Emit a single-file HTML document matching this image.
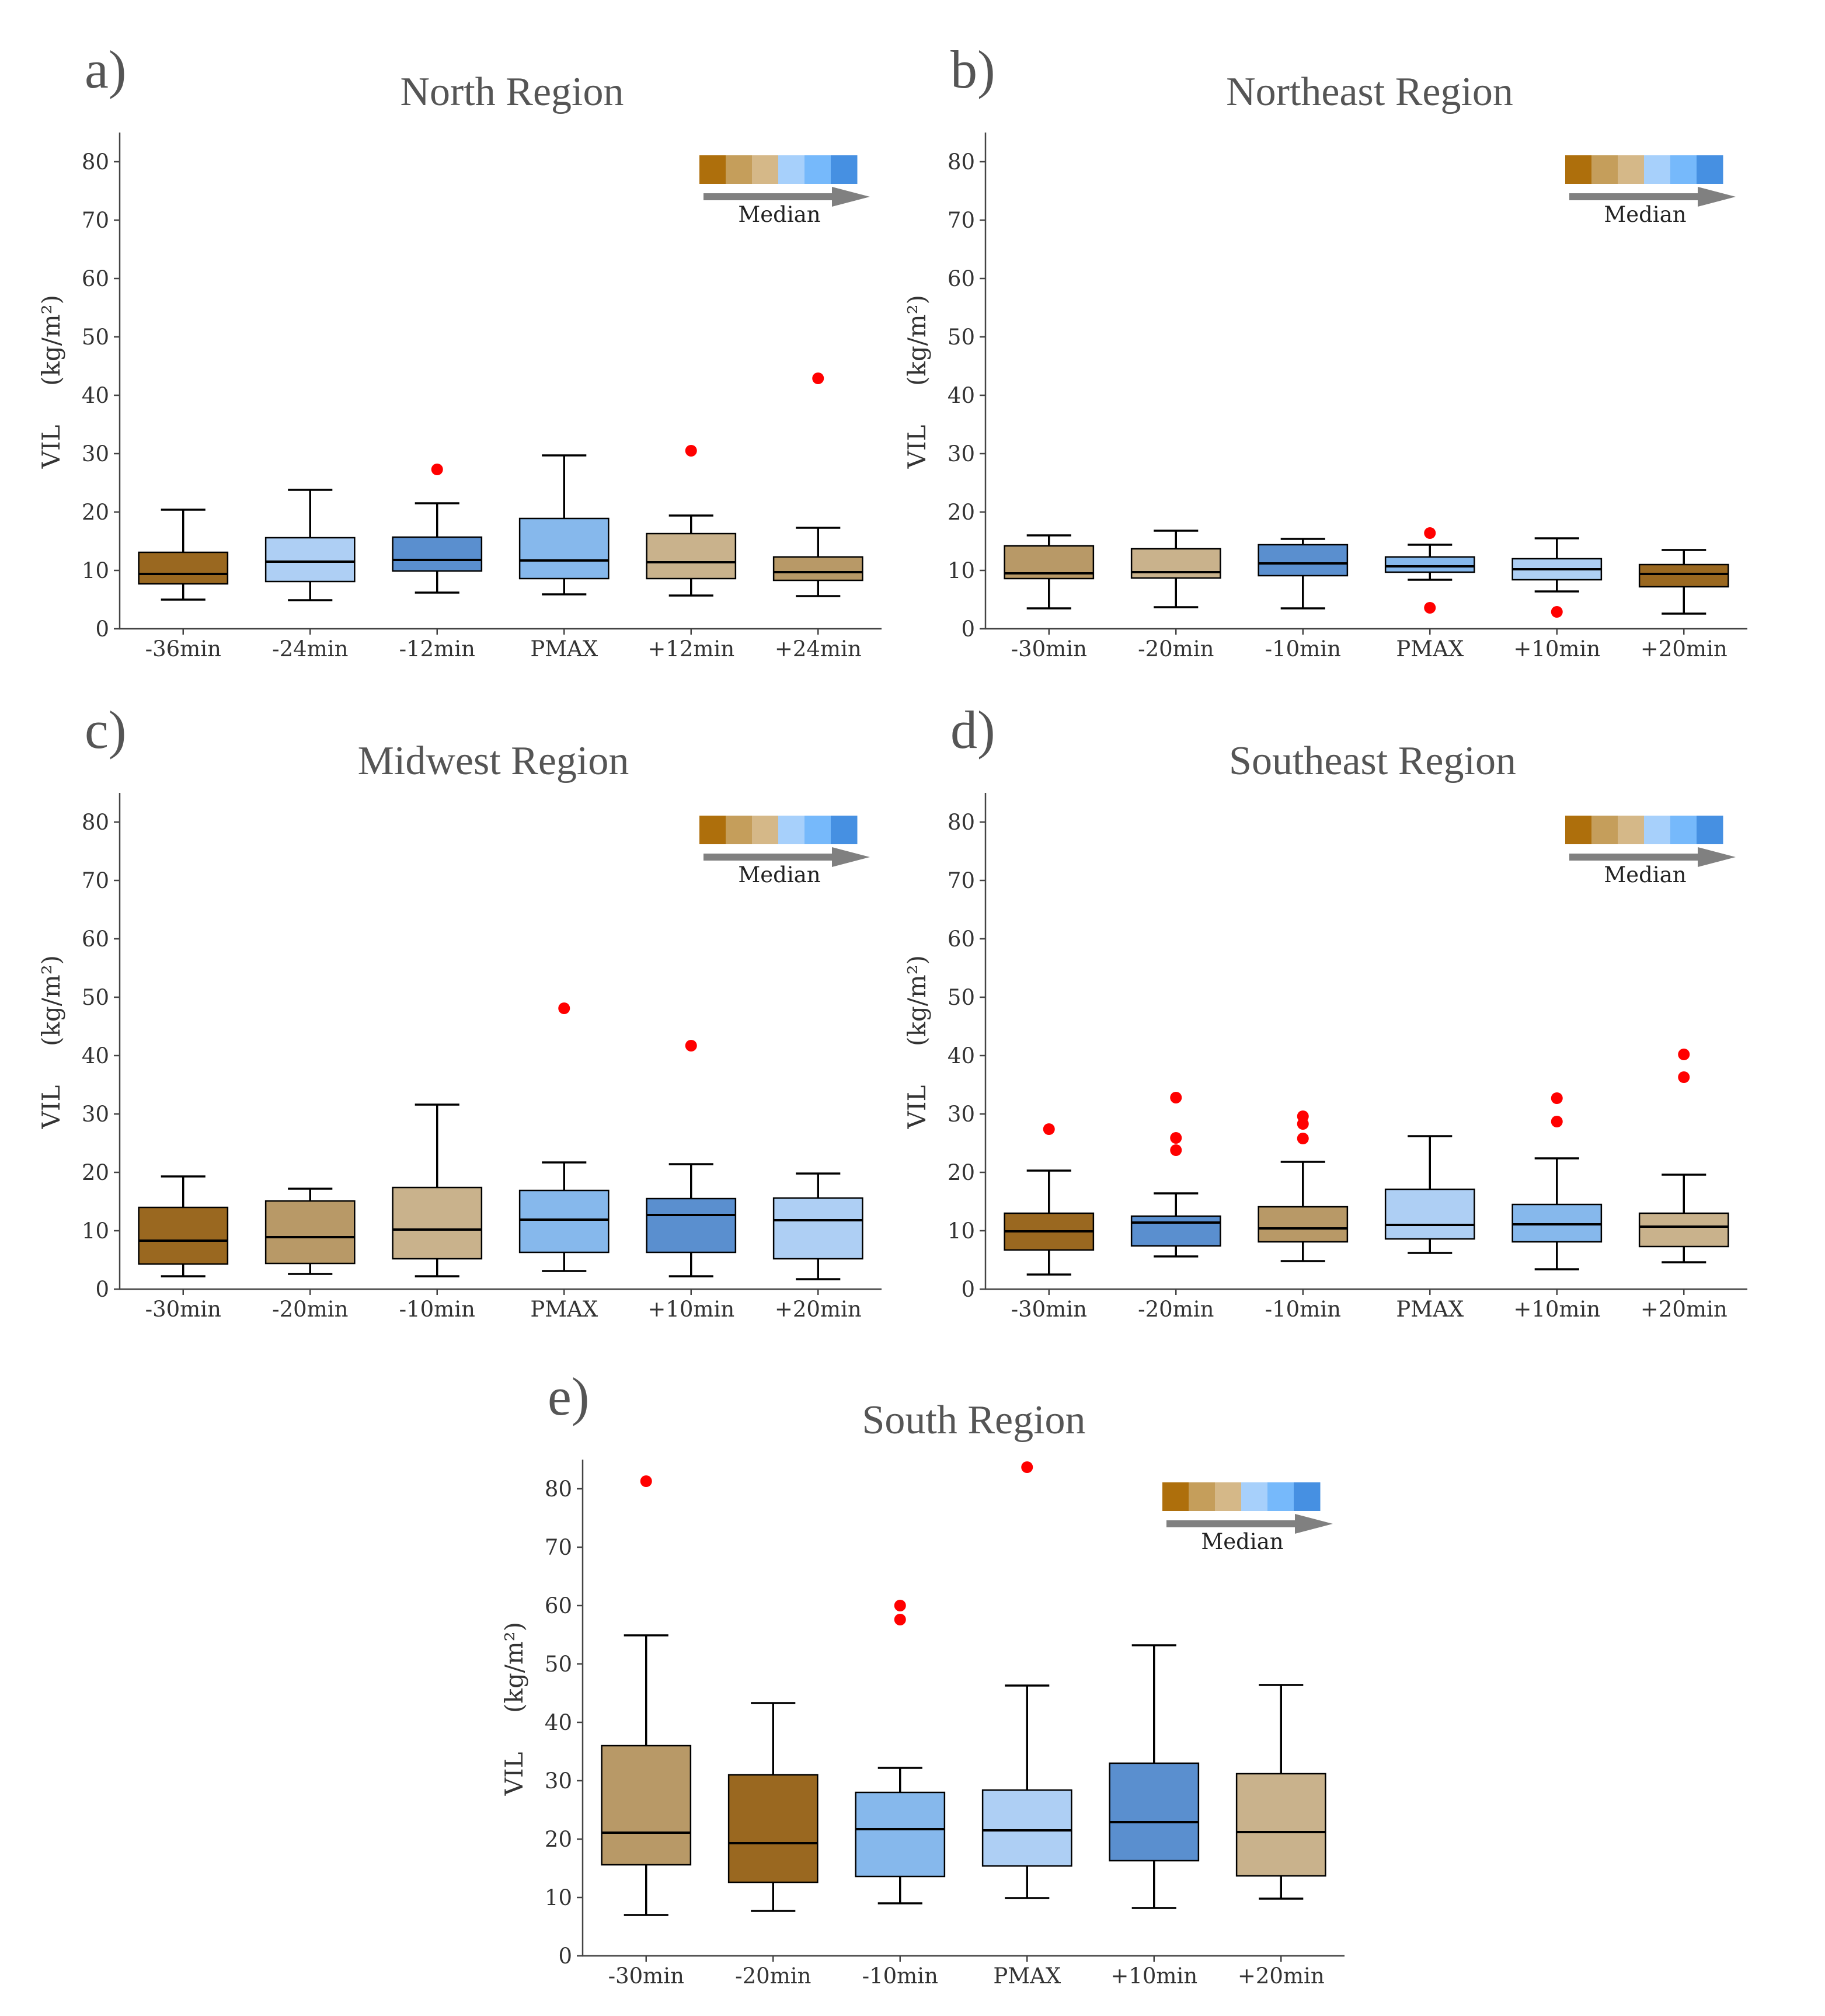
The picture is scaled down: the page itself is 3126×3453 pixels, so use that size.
<!DOCTYPE html>
<html><head><meta charset="utf-8">
<style>
html,body{margin:0;padding:0;background:#fff;}
svg{display:block;}
</style></head>
<body>
<svg id="chart" width="3126" height="3453" viewBox="0 0 3126 3453" xmlns="http://www.w3.org/2000/svg"></svg>
<script>
// ---- Data ----
const categoriesA = ["-36min","-24min","-12min","PMAX","+12min","+24min"];
const categoriesB = ["-30min","-20min","-10min","PMAX","+10min","+20min"];
const yTicks = [0,10,20,30,40,50,60,70,80];
const panelTitles = ["North Region","Northeast Region","Midwest Region","Southeast Region","South Region"];
const panelLetters = ["a)","b)","c)","d)","e)"];
// [low whisker, q1, median, q3, high whisker]
const northStats = [[5.0,7.7,9.4,13.1,20.4],[4.9,8.1,11.5,15.6,23.8],[6.2,9.9,11.8,15.7,21.5],[5.9,8.6,11.7,18.9,29.7],[5.7,8.6,11.4,16.3,19.4],[5.6,8.3,9.7,12.3,17.3]];
const northOutliers = [[],[],[27.3],[],[30.5],[42.9]];
const northColors = ["c0","c3","c5","c4","c2","c1"];
const northeastStats = [[3.5,8.6,9.5,14.2,16.0],[3.7,8.7,9.7,13.7,16.8],[3.5,9.1,11.2,14.4,15.4],[8.4,9.7,10.7,12.3,14.4],[6.4,8.4,10.2,12.0,15.5],[2.6,7.2,9.4,11.0,13.5]];
const northeastOutliers = [[],[],[],[16.4,3.6],[2.9],[]];
const northeastColors = ["c1","c2","c5","c4","c3","c0"];
const midwestStats = [[2.2,4.3,8.3,14.0,19.3],[2.6,4.4,8.9,15.1,17.2],[2.2,5.2,10.2,17.4,31.6],[3.1,6.3,11.9,16.9,21.7],[2.2,6.3,12.7,15.5,21.4],[1.7,5.2,11.8,15.6,19.8]];
const midwestOutliers = [[],[],[],[48.1],[41.7],[]];
const midwestColors = ["c0","c1","c2","c4","c5","c3"];
const southeastStats = [[2.5,6.7,9.9,13.0,20.3],[5.6,7.4,11.4,12.5,16.4],[4.8,8.1,10.4,14.1,21.8],[6.2,8.6,11.0,17.1,26.2],[3.4,8.1,11.1,14.5,22.4],[4.6,7.3,10.7,13.0,19.6]];
const southeastOutliers = [[27.4],[32.8,25.9,23.8],[29.6,28.3,25.8],[],[32.7,28.7],[40.2,36.3]];
const southeastColors = ["c0","c5","c1","c3","c4","c2"];
const southStats = [[7.0,15.6,21.1,36.0,54.9],[7.7,12.6,19.3,31.0,43.3],[9.0,13.6,21.7,28.0,32.2],[9.9,15.4,21.5,28.4,46.3],[8.2,16.3,22.9,33.0,53.2],[9.8,13.7,21.2,31.2,46.4]];
const southOutliers = [[81.3],[],[60.0,57.6],[83.7],[],[]];
const southColors = ["c1","c0","c4","c3","c5","c2"];

const palette = {c0:"#9A6820",c1:"#B89967",c2:"#C9B28C",c3:"#AECFF4",c4:"#86B8EC",c5:"#5A8FCF"};
const legendColors = ["#AE6F0C","#C59E5B","#D5B888","#A7D0FB","#76B9FB","#4690E2"];

const NS = "http://www.w3.org/2000/svg";
const svg = document.getElementById("chart");
function el(tag, attrs, parent){
  const e = document.createElementNS(NS, tag);
  for (const k in attrs) e.setAttribute(k, attrs[k]);
  (parent||svg).appendChild(e);
  return e;
}
const W = 1305, H = 850, PXPER = 10;
const panels = [
  {x0:205,y0:1077,cats:categoriesA,stats:northStats,outs:northOutliers,cols:northColors,name:"north",tx:672,ty:897},
  {x0:1688,y0:1077,cats:categoriesB,stats:northeastStats,outs:northeastOutliers,cols:northeastColors,name:"northeast",tx:658,ty:897},
  {x0:205,y0:2208,cats:categoriesB,stats:midwestStats,outs:midwestOutliers,cols:midwestColors,name:"midwest",tx:640,ty:882},
  {x0:1688,y0:2208,cats:categoriesB,stats:southeastStats,outs:southeastOutliers,cols:southeastColors,name:"southeast",tx:663,ty:882},
  {x0:998,y0:3350,cats:categoriesB,stats:southStats,outs:southOutliers,cols:southColors,name:"south",tx:670,ty:895}
];
const serif = "'Liberation Serif', 'DejaVu Serif', serif";
const tickFont = "'DejaVu Serif', 'Liberation Serif', serif";

panels.forEach((p, pi) => {
  const g = el("g", {});
  
  
  const yS = v => p.y0 - v * PXPER;
  const step = W / p.cats.length;
  const xS = i => p.x0 + (i + 0.5) * step;

  const letter = el("text", {x:p.x0-60, y:p.y0-927, "font-family":serif, "font-size":92, fill:"#555"}, g);
  letter.textContent = panelLetters[pi];
  
  
  const title = el("text", {x:p.x0+p.tx, y:p.y0-p.ty, "font-family":serif, "font-size":70, fill:"#555", "text-anchor":"middle"}, g);
  title.textContent = panelTitles[pi];
  
  

  const ya = el("line", {x1:p.x0, y1:p.y0, x2:p.x0, y2:p.y0-H, stroke:"#444", "stroke-width":2.5}, g);
  
  
  const xa = el("line", {x1:p.x0-1, y1:p.y0, x2:p.x0+W, y2:p.y0, stroke:"#444", "stroke-width":2.5}, g);
  
  

  yTicks.forEach(t => {
    el("line", {x1:p.x0-10, y1:yS(t), x2:p.x0, y2:yS(t), stroke:"#444", "stroke-width":2.5}, g);
    const tl = el("text", {x:p.x0-18, y:yS(t)+13, "font-family":tickFont, "font-size":37, fill:"#333", "text-anchor":"end"}, g);
    tl.textContent = t;
    
    
  });
  p.cats.forEach((c, i) => {
    el("line", {x1:xS(i), y1:p.y0, x2:xS(i), y2:p.y0+10, stroke:"#444", "stroke-width":2.5}, g);
    const xl = el("text", {x:xS(i), y:p.y0+47, "font-family":tickFont, "font-size":37, fill:"#333", "text-anchor":"middle"}, g);
    xl.textContent = c;
    
    
  });

  const yl1 = el("text", {x:0, y:0, "font-family":tickFont, "font-size":42, fill:"#333", "text-anchor":"middle",
    transform:`translate(${p.x0-103},${p.y0-312}) rotate(-90)`}, g);
  yl1.textContent = "VIL";
  
  
  const yl2 = el("text", {x:0, y:0, "font-family":tickFont, "font-size":42, fill:"#333", "text-anchor":"middle",
    transform:`translate(${p.x0-103},${p.y0-494}) rotate(-90)`}, g);
  yl2.textContent = "(kg/m²)";
  
  

  p.stats.forEach((s, i) => {
    const cx = xS(i), bw = step*0.7, cw = bw/2;
    const bg = el("g", {}, g);
    
    
    el("line", {x1:cx, y1:yS(s[0]), x2:cx, y2:yS(s[1]), stroke:"#000", "stroke-width":3.5}, bg);
    el("line", {x1:cx, y1:yS(s[3]), x2:cx, y2:yS(s[4]), stroke:"#000", "stroke-width":3.5}, bg);
    el("line", {x1:cx-cw/2, y1:yS(s[0]), x2:cx+cw/2, y2:yS(s[0]), stroke:"#000", "stroke-width":3.5}, bg);
    el("line", {x1:cx-cw/2, y1:yS(s[4]), x2:cx+cw/2, y2:yS(s[4]), stroke:"#000", "stroke-width":3.5}, bg);
    el("rect", {x:cx-bw/2, y:yS(s[3]), width:bw, height:yS(s[1])-yS(s[3]), fill:palette[p.cols[i]], stroke:"#000", "stroke-width":2.5}, bg);
    el("line", {x1:cx-bw/2, y1:yS(s[2]), x2:cx+bw/2, y2:yS(s[2]), stroke:"#000", "stroke-width":4}, bg);
    p.outs[i].forEach(o => {
      const d = el("circle", {cx:cx, cy:yS(o), r:10, fill:"#FF0000"}, bg);
      
      
    });
  });

  const lg = el("g", {}, g);
  
  
  legendColors.forEach((c, k) => {
    el("rect", {x:p.x0+993+k*45, y:p.y0-811, width:45.5, height:49, fill:c}, lg);
  });
  el("polygon", {points:`${p.x0+1000},${p.y0-746} ${p.x0+1220},${p.y0-746} ${p.x0+1220},${p.y0-757} ${p.x0+1285},${p.y0-740} ${p.x0+1220},${p.y0-723} ${p.x0+1220},${p.y0-734} ${p.x0+1000},${p.y0-734}`, fill:"#808080"}, lg);
  const mt = el("text", {x:p.x0+1130, y:p.y0-697, "font-family":tickFont, "font-size":37, fill:"#222", "text-anchor":"middle"}, lg);
  mt.textContent = "Median";
  
  
});
</script>
</body></html>
